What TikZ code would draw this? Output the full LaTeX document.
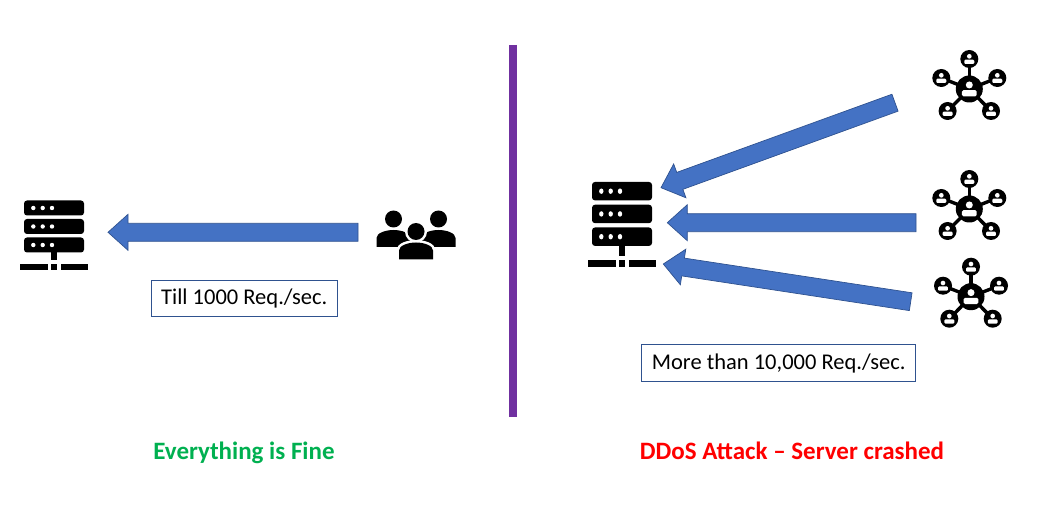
\documentclass[tikz,border=0pt]{standalone}
\usepackage{fontspec}
\setmainfont{Carlito}
\usetikzlibrary{calc}
\definecolor{flowblue}{HTML}{4472C4}
\definecolor{flowedge}{HTML}{2F528F}
\definecolor{divider}{HTML}{7030A0}
\definecolor{okgreen}{HTML}{00B050}
\tikzset{
  flowarrow/.style={fill=flowblue, draw=flowedge, line width=0.7pt},
  notebox/.style={draw=flowedge, line width=0.7pt, fill=white, inner sep=0pt, text height=16pt, text depth=3pt, font=\fontsize{22.5}{27}\selectfont},
  verdict/.style={text height=17pt, text depth=5pt, font=\fontsize{25}{30}\selectfont\bfseries},
  pics/serverrack/.style={code={
    \foreach \y in {-27,-8.5,10}{
      \fill[black, rounded corners=3pt] (-30,\y-7.5) rectangle (30,\y+7.5);
      \foreach \x in {-20.7,-11.3,-2}
        \fill[white] (\x,\y) circle (2.2);
    }
    \fill (-2.9,17.5) rectangle (2.9,25.3);
    \fill (-34,29) rectangle (-6.3,34.7);
    \fill (-2.9,29) rectangle (2.9,34.7);
    \fill (6.7,29) rectangle (33.7,34.7);
  }},
  pics/person/.style={code={
    \path[fill=black, preaction={draw=#1, line width=5pt}] (0,-12) circle (8.5);
    \path[fill=black, preaction={draw=#1, line width=5pt}] (-17,16) -- (-17,7) .. controls (-17,2) and (-8,-1) .. (0,-1) .. controls (8,-1) and (17,2) .. (17,7) -- (17,16) -- cycle;
  }},
  pics/netmember/.style={code={
    \fill (0,0) circle (#1);
    \fill[white] (0,-0.3*#1) circle (0.26*#1);
    \fill[white, rounded corners=0.12*#1] (-0.55*#1,0.55*#1) rectangle (0.55*#1,0.08*#1);
  }},
  pics/usernet/.style={code={
    \foreach \x/\y in {0/-30,-28/-11,28/-11,-21.7/22,21.7/22}{
      \draw[line width=3.4pt] (0,0) -- (\x,\y);
      \pic at (\x,\y) {netmember=9};
    }
    \pic at (0,0) {netmember=13.5};
  }},
}
\newcommand{\blockarrow}[2]{
  \coordinate (headbase) at ($(#2)!20pt!(#1)$);
  \draw[flowarrow] ($(#1)!9pt!90:(#2)$) -- ($(headbase)!9pt!-90:(#1)$) -- ($(headbase)!18pt!-90:(#1)$) -- (#2)
    -- ($(headbase)!18pt!90:(#1)$) -- ($(headbase)!9pt!90:(#1)$) -- ($(#1)!9pt!-90:(#2)$) -- cycle;
}

\begin{document}
\begin{tikzpicture}[x=1pt, y=-1pt]
\useasboundingbox (0,0) rectangle (1039,505);

% divider
\coordinate (dividertop) at (513,45);
\coordinate (dividerbottom) at (513,417);
\draw[divider, line width=8pt] (dividertop) -- (dividerbottom);

% left side
\pic (leftserver) at (54,235) {serverrack};
\pic (usera) at (393.5,231) {person=none};
\pic (userb) at (438.5,231) {person=none};
\pic (userc) at (416,243.5) {person=white};

\coordinate (usersout) at (358,232.3);
\coordinate (leftin) at (108,232.3);

% right side
\pic[yscale=1.23] (rightserver) at (622,224.4) {serverrack};
\pic (neta) at (969.3,89) {usernet};
\pic (netb) at (969.3,209) {usernet};
\pic (netc) at (971,296.7) {usernet};

\coordinate (netaout) at (895,102.7);
\coordinate (netbout) at (916,222.7);
\coordinate (netcout) at (910.7,301.7);
\coordinate (rightina) at (661,187.7);
\coordinate (rightinb) at (667.3,222.7);
\coordinate (rightinc) at (663.3,264);

\blockarrow{usersout}{leftin}
\blockarrow{netaout}{rightina}
\blockarrow{netbout}{rightinb}
\blockarrow{netcout}{rightinc}

% notes
\node[notebox, minimum width=186.7pt, minimum height=36pt] (leftnote) at (244.3,298.3) {Till 1000 Req./sec.};
\node[notebox, minimum width=274pt, minimum height=37pt] (rightnote) at (778.7,362.8) {More than 10,000 Req./sec.};

\node[verdict, text=okgreen] (fine) at (244,453) {Everything is Fine};
\node[verdict, text=red] (crashed) at (792,453) {DDoS Attack – Server crashed};

\end{tikzpicture}
\end{document}
